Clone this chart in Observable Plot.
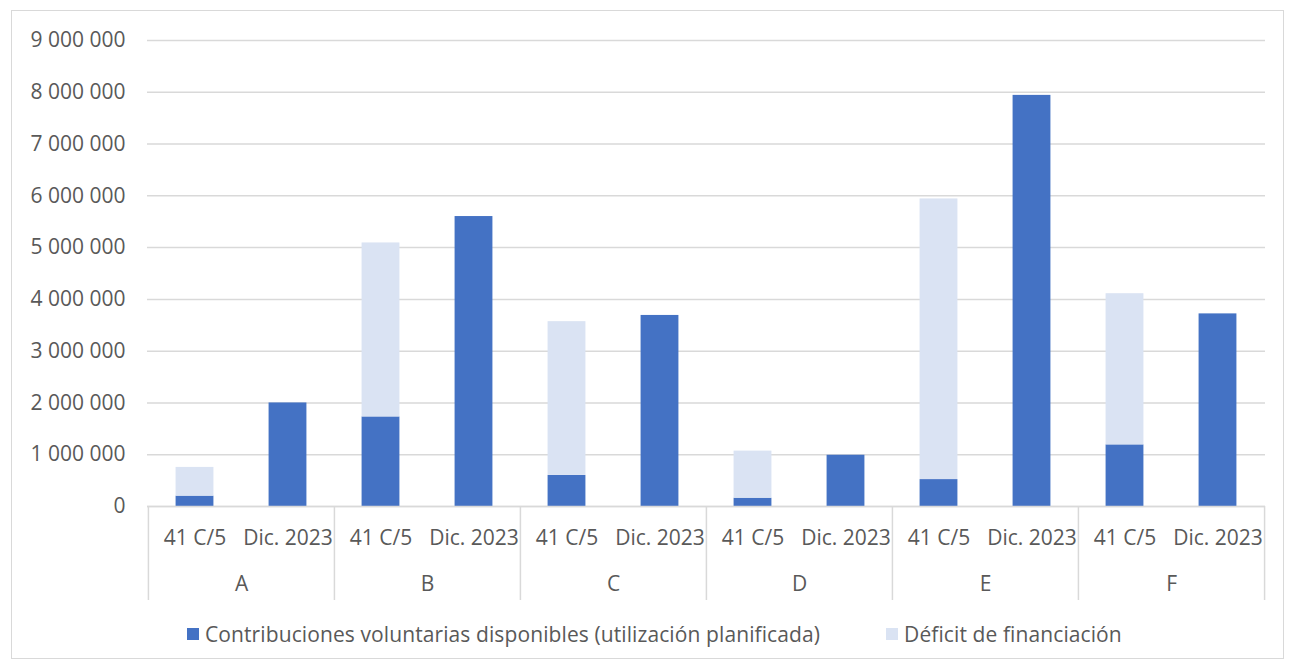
<!DOCTYPE html>
<html>
<head>
<meta charset="utf-8">
<script src="https://cdn.jsdelivr.net/npm/d3@7"></script>
<script src="https://cdn.jsdelivr.net/npm/@observablehq/plot@0.6"></script>
<style>
  html, body { margin: 0; padding: 0; background: #fff; }
  body { width: 1293px; height: 669px; position: relative; overflow: hidden; font-family: "Open Sans", sans-serif; }
  #border { position: absolute; left: 11px; top: 10px; width: 1273px; height: 649px; border: 1px solid #d9d9d9; box-sizing: border-box; }
  #chart { position: absolute; left: 0; top: 0; }
  #legend { position: absolute; left: 187px; top: 620px; display: flex; align-items: center; color: #595959; font-size: 21px; letter-spacing: 0.1px; white-space: nowrap; }
  .item { display: flex; align-items: center; }
  .sw { width: 12px; height: 12px; margin-right: 6px; }
</style>
</head>
<body>
<div id="border"></div>
<div id="chart"></div>
<div id="legend"></div>
<script>
// ---- Data ----
const groups = ["A", "B", "C", "D", "E", "F"];
const periods = ["41 C/5", "Dic. 2023"];
const seriesNames = [
  "Contribuciones voluntarias disponibles (utilización planificada)",
  "Déficit de financiación"
];
const contrib41 = [200000, 1730000, 600000, 160000, 520000, 1190000];
const deficit41 = [555000, 3360000, 2970000, 910000, 5420000, 2920000];
const contribDic = [2000000, 5600000, 3690000, 990000, 7940000, 3720000];
const yTicks = [0, 1000000, 2000000, 3000000, 4000000, 5000000, 6000000, 7000000, 8000000, 9000000];
const colors = ["#4472C4", "#DAE3F3"];

// ---- Build rows ----
const keys = [];
const rows = [];
groups.forEach((g, i) => {
  const k1 = g + "|" + periods[0], k2 = g + "|" + periods[1];
  keys.push(k1, k2);
  rows.push({key: k1, series: seriesNames[0], value: contrib41[i]});
  rows.push({key: k1, series: seriesNames[1], value: deficit41[i]});
  rows.push({key: k2, series: seriesNames[0], value: contribDic[i]});
});

const W = 1293, H = 610, ML = 147, MR = 28, MT = 40, MB = 104;
const bw = (W - ML - MR) / keys.length;
const barW = 38;
const inset = (bw - barW) / 2;
const fmt = d3.formatLocale({thousands: " ", grouping: [3], decimal: ","}).format(",");

const chart = Plot.plot({
  width: W, height: H,
  marginLeft: ML, marginRight: MR, marginTop: MT, marginBottom: MB,
  style: {fontFamily: "Open Sans", fontSize: "21px", color: "#595959", background: "transparent"},
  x: {domain: keys, padding: 0, axis: null, label: null},
  y: {domain: [0, 9000000], axis: null, label: null},
  color: {domain: seriesNames, range: colors},
  marks: [
    Plot.gridY(yTicks, {stroke: "#d9d9d9", strokeOpacity: 1, strokeWidth: 1.5}),
    Plot.barY(rows, Plot.stackY({x: "key", y: "value", fill: "series", insetLeft: inset, insetRight: inset})),
    Plot.ruleY([0], {stroke: "#d9d9d9", strokeWidth: 1.5}),
    Plot.ruleX(groups.map(g => g + "|" + periods[0]), {x: d => d, dx: -bw / 2, y1: 0, y2: 0, insetBottom: -94, stroke: "#d9d9d9", strokeWidth: 1.5}),
    Plot.ruleX([groups[groups.length - 1] + "|" + periods[1]], {x: d => d, dx: bw / 2, y1: 0, y2: 0, insetBottom: -94, stroke: "#d9d9d9", strokeWidth: 1.5}),
    Plot.axisY(yTicks, {tickSize: 0, tickPadding: 22, tickFormat: fmt, fill: "#595959", label: null}),
    Plot.axisX(keys, {tickSize: 0, tickPadding: 24, tickFormat: k => k.split("|")[1], fill: "#595959", label: null}),
    Plot.text(groups, {x: g => g + "|" + periods[0], dx: bw / 2, frameAnchor: "bottom", dy: 84, text: d => d, fill: "#595959"})
  ]
});
document.getElementById("chart").appendChild(chart);

// ---- Legend ----
const legend = document.getElementById("legend");
seriesNames.forEach((name, i) => {
  const item = document.createElement("div");
  item.className = "item";
  if (i > 0) item.style.marginLeft = "66px";
  const sw = document.createElement("div");
  sw.className = "sw";
  sw.style.background = colors[i];
  const t = document.createElement("span");
  t.textContent = name;
  item.appendChild(sw);
  item.appendChild(t);
  legend.appendChild(item);
});
</script>
</body>
</html>
